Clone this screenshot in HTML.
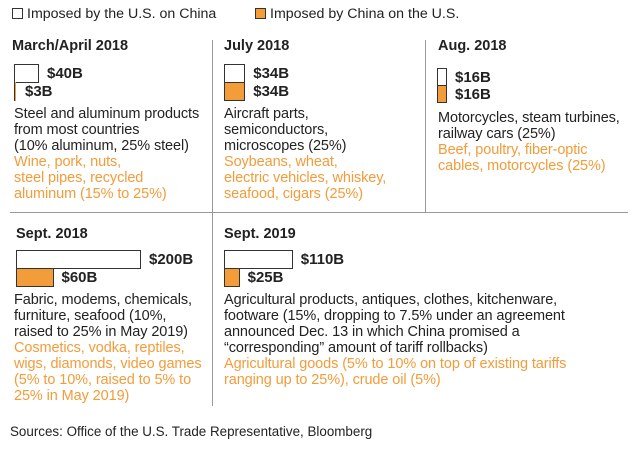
<!DOCTYPE html>
<html><head><meta charset="utf-8">
<style>
body{margin:0;width:634px;height:456px;background:#fff;font-family:"Liberation Sans",Arial,sans-serif;color:#222;position:relative;overflow:hidden}
.a{position:absolute;white-space:nowrap}
.t{font-weight:bold;font-size:14.5px}
.d{font-size:14.5px;line-height:16px;letter-spacing:-0.1px}
.o{color:#f39c3a}
.v{font-weight:bold;font-size:15px}
.line{position:absolute;background:#999}
.bar{position:absolute;box-sizing:border-box;border:1.3px solid #333}
</style></head><body>
<div class="a" style="left:12px;top:6px;font-size:14.2px">
<span style="display:inline-block;width:9px;height:9px;border:1px solid #333;vertical-align:-1px;margin-right:4px"></span>Imposed by the U.S. on China</div>
<div class="a" style="left:255px;top:6px;font-size:14.2px">
<span style="display:inline-block;width:9px;height:9px;border:1px solid #333;background:#f39c3a;vertical-align:-1px;margin-right:4px"></span>Imposed by China on the U.S.</div>
<div class="line" style="left:10px;top:212px;width:618px;height:1px"></div>
<div class="line" style="left:212px;top:40px;width:1px;height:366px"></div>
<div class="line" style="left:425px;top:40px;width:1px;height:172px"></div>

<div class="a t" style="left:12px;top:38px">March/April 2018</div>
<div class="a d" style="left:14px;top:106px">Steel and aluminum products<br>from most countries<br>(10% aluminum, 25% steel)<br><span class="o">Wine, pork, nuts,<br>steel pipes, recycled<br>aluminum (15% to 25%)</span></div>

<div class="a t" style="left:224px;top:38px">July 2018</div>
<div class="a d" style="left:224px;top:106px">Aircraft parts,<br>semiconductors,<br>microscopes (25%)<br><span class="o">Soybeans, wheat,<br>electric vehicles, whiskey,<br>seafood, cigars (25%)</span></div>

<div class="a t" style="left:438px;top:38px">Aug. 2018</div>
<div class="a d" style="left:438px;top:110px">Motorcycles, steam turbines,<br>railway cars (25%)<br><span class="o">Beef, poultry, fiber-optic<br>cables, motorcycles (25%)</span></div>

<div class="a t" style="left:16px;top:226px">Sept. 2018</div>
<div class="a d" style="left:14px;top:292px">Fabric, modems, chemicals,<br>furniture, seafood (10%,<br>raised to 25% in May 2019)<br><span class="o">Cosmetics, vodka, reptiles,<br>wigs, diamonds, video games<br>(5% to 10%, raised to 5% to<br>25% in May 2019)</span></div>

<div class="a t" style="left:224px;top:226px">Sept. 2019</div>
<div class="a d" style="left:224px;top:292px">Agricultural products, antiques, clothes, kitchenware,<br>footware (15%, dropping to 7.5% under an agreement<br>announced Dec. 13 in which China promised a<br>“corresponding” amount of tariff rollbacks)<br><span class="o">Agricultural goods (5% to 10% on top of existing tariffs<br>ranging up to 25%), crude oil (5%)</span></div>

<div class="a" style="left:10px;top:424px;font-size:13.4px">Sources: Office of the U.S. Trade Representative, Bloomberg</div>

<script>
const panels=["Mar 2018","Jul 2018","Aug 2018","Sep 2018","Sep 2019"];
const usValues=[40,34,16,200,110];
const chinaValues=[3,34,16,60,25];
const barX=[14,224,437,16,224];
const barY=[64,64,68,250,250];
const barH=[18,18,17,18,18];
const scale=v=>v*0.625;
panels.forEach((p,i)=>{
  [usValues[i],chinaValues[i]].forEach((v,k)=>{
    const b=document.createElement('div');
    b.className='bar';
    
    
    const w=Math.max(2,scale(v));
    b.style.left=barX[i]+'px';
    b.style.top=(barY[i]+k*barH[i])+'px';
    b.style.width=w+'px';
    b.style.height=(barH[i]+1)+'px';
    if(k){b.style.background='#f39c3a';if(w<4){b.style.border='none';b.style.borderLeft='1.3px solid #333';b.style.background='#f39c3a';}}
    else b.style.background='#fff';
    document.body.appendChild(b);
    const l=document.createElement('div');
    l.className='a v';
    
    
    l.textContent='$'+v+'B';
    l.style.left=(barX[i]+w+(w<4?9:8))+'px';
    l.style.top=(barY[i]+k*barH[i]+1)+'px';
    document.body.appendChild(l);
  });
});
</script>
</body></html>
